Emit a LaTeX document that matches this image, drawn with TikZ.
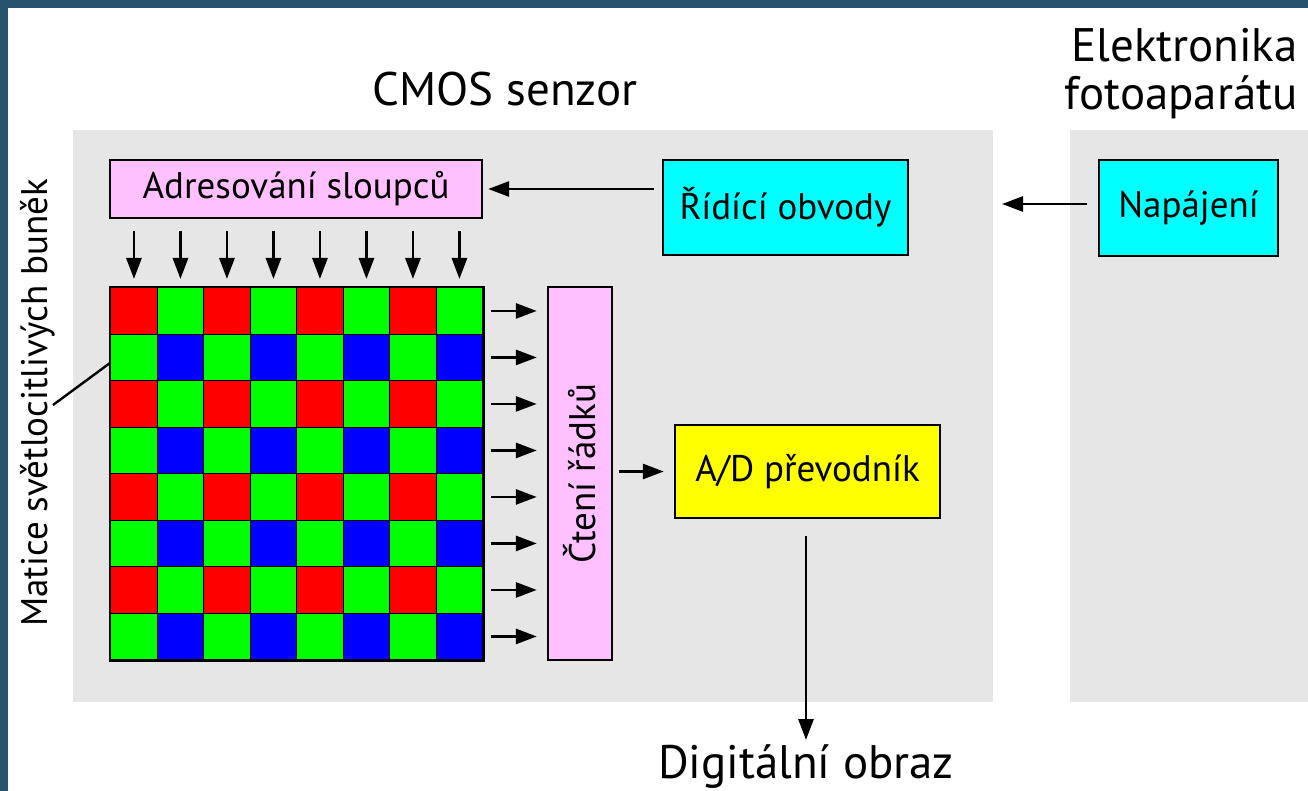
\documentclass[tikz,border=0pt]{standalone}
\usepackage{fontspec}
\setmainfont{PT Sans}
\usetikzlibrary{arrows.meta}
\definecolor{frameblue}{HTML}{28536E}
\definecolor{panelgrey}{HTML}{E6E6E6}
\definecolor{pinkbox}{HTML}{FFC0FF}
\definecolor{cyanbox}{HTML}{00FFFF}
\definecolor{yellowbox}{HTML}{FFFF00}
\definecolor{cr}{HTML}{FF0000}
\definecolor{cg}{HTML}{00FF00}
\definecolor{cb}{HTML}{0000FF}
\tikzset{
  boxfont/.style={font=\fontsize{37}{40}\selectfont},
  box/.style={draw=black, line width=2.4pt, inner sep=0pt, boxfont},
  cell/.style={draw=black, line width=1.4pt, minimum width=46.5pt, minimum height=46.5pt, inner sep=0pt, anchor=north west},
  arr/.style={line width=2.8pt, -{Triangle[length=21pt,width=15pt]}},
  ttl/.style={font=\fontsize{47}{47}\selectfont, inner sep=0pt},
}
\begin{document}
\begin{tikzpicture}[x=1pt,y=-1pt]
\useasboundingbox (0,0) rectangle (1308,791);
\fill[white] (0,0) rectangle (1308,791);
\fill[frameblue] (0,0) rectangle (1308,8);
\fill[frameblue] (0,0) rectangle (8,791);
% panels
\fill[panelgrey] (73,130) rectangle (993,702);
\fill[panelgrey] (1070,130) rectangle (1308,702);
% titles
\node[ttl, anchor=base] (cmos) at (505,106) {CMOS senzor};
\node[ttl, align=right, anchor=east, font=\fontsize{47}{48}\selectfont] (elek) at (1298,74) {Elektronika\\fotoaparátu};
% boxes
\node[box, fill=pinkbox, minimum width=372pt, minimum height=58pt] (adr) at (296,189) {Adresování sloupců};
\node[box, fill=cyanbox, minimum width=245pt, minimum height=95pt] (rid) at (785.5,207.5) {Řídící obvody};
\node[box, fill=cyanbox, minimum width=179pt, minimum height=96pt] (nap) at (1188.5,208) {Napájení};
\node[box, fill=pinkbox, minimum width=64pt, minimum height=373pt] (cteni) at (580,473.5) {};
\node[rotate=90, boxfont, inner sep=0pt] (ctenitext) at (cteni.center) {Čtení řádků};
\node[box, fill=yellowbox, minimum width=265pt, minimum height=93pt] (ad) at (807.5,471.5) {A/D převodník};
\node[ttl, anchor=base] (dig) at (806,778) {Digitální obraz};
\node[rotate=90, boxfont, inner sep=0pt] (mat) at (38,403) {Matice světlocitlivých buněk};
% grid
\foreach \r in {0,...,7} {
  \foreach \c in {0,...,7} {
    \pgfmathtruncatemacro{\rr}{mod(\r,2)}
    \pgfmathtruncatemacro{\cc}{mod(\c,2)}
    \ifnum\rr=0
      \ifnum\cc=0 \def\col{cr}\else\def\col{cg}\fi
    \else
      \ifnum\cc=0 \def\col{cg}\else\def\col{cb}\fi
    \fi
    \node[cell, fill=\col] (c\r\c) at ({110+46.5*\c},{287+46.5*\r}) {};
  }
}
\draw[line width=2.4pt] (c00.north west) rectangle (c77.south east);
% arrows
\coordinate (napend) at (1002,204);
\draw[arr, shorten <=11pt] (nap.west |- napend) -- (napend);
\draw[arr, shorten <=8pt, shorten >=5pt] (rid.west |- adr.east) -- (adr.east);
\foreach \c in {0,...,7} {
  \draw[arr, shorten <=12pt, shorten >=8pt] (adr.south -| c0\c.north) -- (c0\c.north);
}
\foreach \r in {0,...,7} {
  \draw[arr, shorten <=8pt, shorten >=10pt] (c\r7.east) -- (cteni.west |- c\r7.east);
}
\draw[arr, shorten <=6pt, shorten >=10pt] (cteni.east |- ad.west) -- (ad.west);
\coordinate (digtop) at (806,740);
\draw[arr, shorten <=17pt] (ad.south -| digtop) -- (digtop);
\coordinate (lead) at (53,405);
\draw[line width=2.4pt] (lead) -- (110,363);
\end{tikzpicture}
\end{document}
